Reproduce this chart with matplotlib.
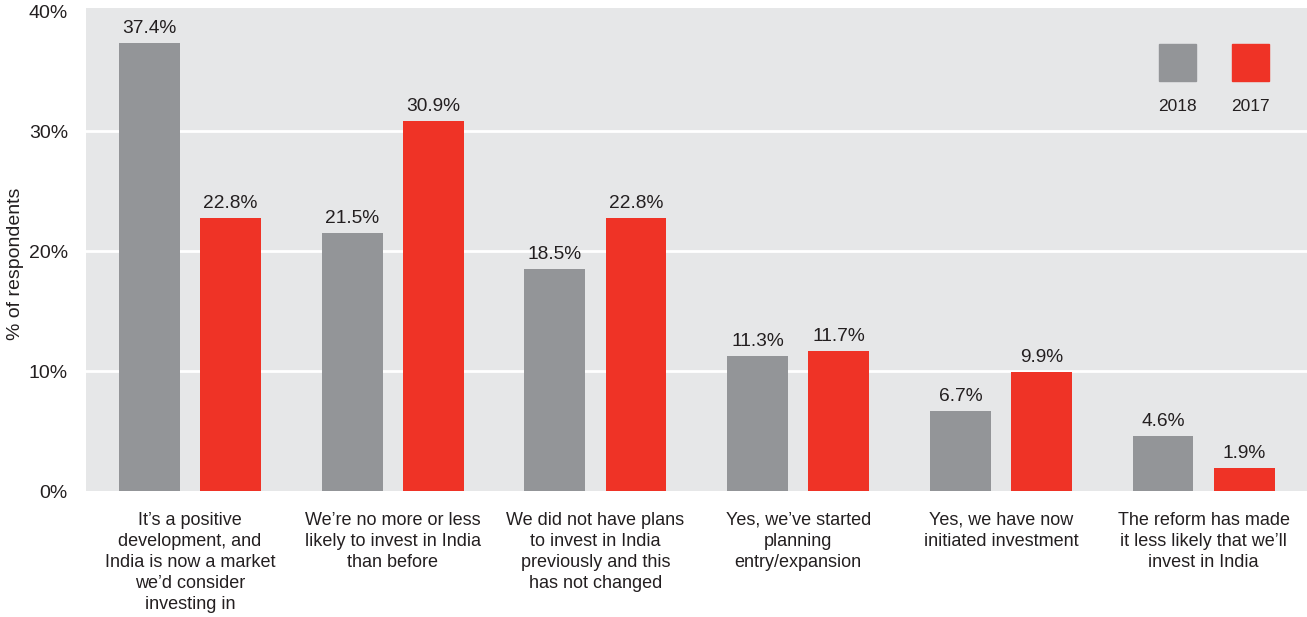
import numpy as np
import matplotlib.pyplot as plt
from matplotlib.patches import Rectangle

categories = ["It\u2019s a positive\ndevelopment, and\nIndia is now a market\nwe\u2019d consider\ninvesting in",
              "We\u2019re no more or less\nlikely to invest in India\nthan before",
              "We did not have plans\nto invest in India\npreviously and this\nhas not changed",
              "Yes, we\u2019ve started\nplanning\nentry/expansion",
              "Yes, we have now\ninitiated investment",
              "The reform has made\nit less likely that we\u2019ll\ninvest in India"]
vals_2018 = [37.4, 21.5, 18.5, 11.3, 6.7, 4.6]
vals_2017 = [22.8, 30.9, 22.8, 11.7, 9.9, 1.9]
years = ["2018", "2017"]

gray = "#939598"
red = "#EF3326"
bg = "#E6E7E8"
txt = "#231F20"

plt.rcParams['font.family'] = ['Liberation Sans', 'DejaVu Sans']

fig = plt.figure(figsize=(13.07, 6.17), dpi=100)
ax = fig.add_axes([0.0658, 0.204, 0.9342, 0.783])
ax.set_facecolor(bg)

x = np.arange(len(categories))
w = 0.3
ax.bar(x - 0.2, vals_2018, w, color=gray, zorder=2)
ax.bar(x + 0.2, vals_2017, w, color=red, zorder=2)
for i in range(len(x)):
    ax.text(x[i] - 0.2, vals_2018[i] + 0.5, "%.1f%%" % vals_2018[i], ha='center', va='bottom',
            fontsize=13.8, color=txt)
    ax.text(x[i] + 0.2, vals_2017[i] + 0.5, "%.1f%%" % vals_2017[i], ha='center', va='bottom',
            fontsize=13.8, color=txt)

ax.set_xlim(-0.513, 5.51)
ax.set_ylim(0, 40.3)
ax.set_yticks([0, 10, 20, 30, 40])
ax.set_yticklabels(["0%", "10%", "20%", "30%", "40%"], fontsize=14, color=txt,
                   va='center_baseline')
for g in [10, 20, 30]:
    ax.axhline(g, color='white', linewidth=2, zorder=1)
ax.tick_params(axis='y', length=0, pad=13)
ax.tick_params(axis='x', length=0, pad=15)
ax.set_xticks(x)
ax.set_xticklabels(categories, fontsize=13, color=txt, linespacing=1.31)
for s in ax.spines.values():
    s.set_visible(False)
ax.set_ylabel("% of respondents", fontsize=14, color=txt)
ax.yaxis.set_label_coords(-0.0508, 0.47)

# legend: squares above year labels
for j, (c, lab) in enumerate(zip([gray, red], years)):
    x0 = 0.8785 + j * 0.0598
    ax.add_patch(Rectangle((x0, 0.849), 0.0303, 0.077, transform=ax.transAxes,
                           color=c, clip_on=False, zorder=3))
    ax.text(x0 + 0.0151, 0.797, lab, transform=ax.transAxes, ha='center', va='center',
            fontsize=12.5, color=txt)

fig.savefig("out.png", dpi=100)
